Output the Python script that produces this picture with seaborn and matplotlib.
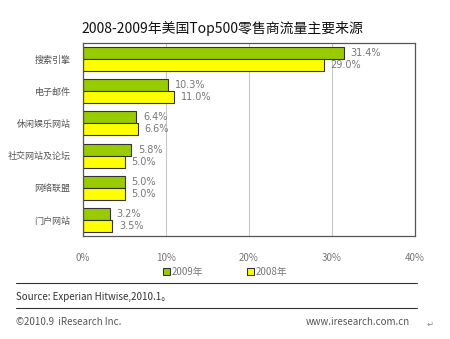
import matplotlib
matplotlib.use("Agg")
import matplotlib.pyplot as plt
import seaborn as sns
import pandas as pd
from matplotlib.patches import Patch
from matplotlib.lines import Line2D

categories = ["搜索引擎", "电子邮件", "休闲娱乐网站", "社交网站及论坛", "网络联盟", "门户网站"]
values_2009 = [31.4, 10.3, 6.4, 5.8, 5.0, 3.2]
values_2008 = [29.0, 11.0, 6.6, 5.0, 5.0, 3.5]
series = ["2009年", "2008年"]
xticks = [0, 10, 20, 30, 40]
xtick_labels = ["0%", "10%", "20%", "30%", "40%"]

sns.set_theme(style="white")
plt.rcParams['font.family'] = ['Noto Sans CJK SC', 'DejaVu Sans']

df = pd.DataFrame({
    "cat": categories * 2,
    "val": values_2009 + values_2008,
    "year": [series[0]] * len(categories) + [series[1]] * len(categories),
})

colors = {"2009年": "#99CC00", "2008年": "#FFFF00"}
gray = "#777777"

fig = plt.figure(figsize=(4.5, 3.39), dpi=100)
ax = fig.add_axes([83/450, 1 - 236/339, (415-83)/450, (236-43)/339])
sns.barplot(data=df, y="cat", x="val", hue="year", order=categories,
            hue_order=series, palette=colors, width=0.75, orient="h",
            saturation=1, edgecolor="#333333", linewidth=0.8, ax=ax, legend=False)

ax.set_xlim(0, 40)
ax.set_ylim(len(categories) - 0.5, -0.5)
ax.set_xticks(xticks)
ax.set_xticklabels(xtick_labels, fontsize=7, color=gray)
ax.tick_params(axis="x", length=0, pad=12)
ax.tick_params(axis="y", length=0, pad=9, labelsize=6.5, labelcolor="#555555")
ax.set_xlabel("")
ax.set_ylabel("")
ax.grid(axis="x", color="#c8c8c8", linewidth=0.8)
ax.set_axisbelow(True)
for s in ax.spines.values():
    s.set_color("#555555")
    s.set_linewidth(0.9)

for cont in ax.containers:
    ax.bar_label(cont, labels=[f"{v:.1f}%" for v in cont.datavalues],
                 padding=5, fontsize=7, color=gray, family="DejaVu Sans")

fig.text(222/450, 1 - 29/339, "2008-2009年美国Top500零售商流量主要来源",
         ha="center", va="center", fontsize=10, fontweight="medium", color="#111111")

handles = [Patch(facecolor=colors[s], edgecolor="#333333", linewidth=0.8, label=s) for s in series]
fig.legend(handles=handles, loc="center", bbox_to_anchor=(225/450, 1 - 272/339),
           ncol=2, frameon=False, fontsize=7, handlelength=0.7, handleheight=0.7,
           handletextpad=0.2, columnspacing=4.5, labelcolor=gray)

fig.add_artist(Line2D([16/450, 417/450], [1 - 283/339, 1 - 283/339], color="#333333", linewidth=0.8))
fig.add_artist(Line2D([16/450, 417/450], [1 - 308/339, 1 - 308/339], color="#333333", linewidth=0.8))
fig.text(16/450, 1 - 297/339, "Source: Experian Hitwise,2010.1。", ha="left", va="center",
         fontsize=7, color="#333333")
fig.text(16/450, 1 - 322/339, "©2010.9  iResearch Inc.", ha="left", va="center",
         fontsize=7, color="#555555")
fig.text(410/450, 1 - 322/339, "www.iresearch.com.cn", ha="right", va="center",
         fontsize=7, color="#555555")
fig.text(430/450, 1 - 324/339, "↵", ha="center", va="center", fontsize=6, color="#888888",
         family="DejaVu Sans")

fig.savefig("out.png", dpi=100, facecolor="white")
